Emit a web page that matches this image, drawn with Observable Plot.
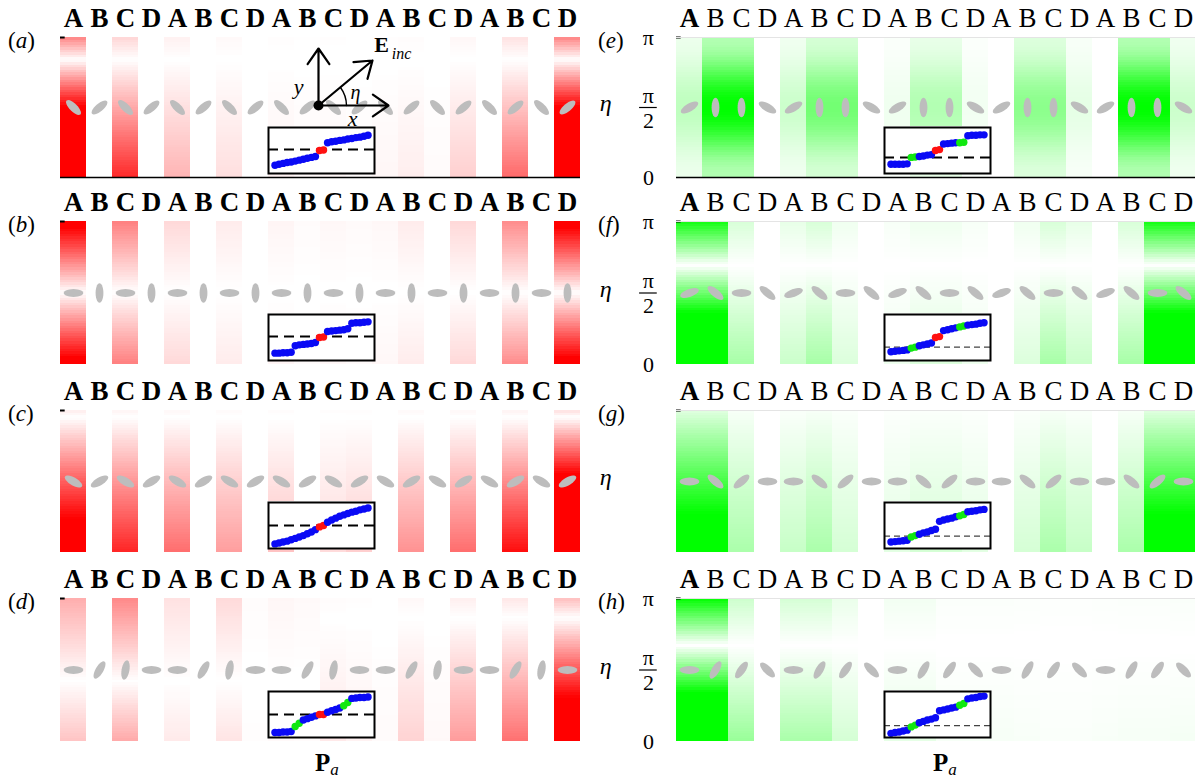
<!DOCTYPE html>
<html><head><meta charset="utf-8">
<script src="https://cdn.jsdelivr.net/npm/d3@7"></script>
<script src="https://cdn.jsdelivr.net/npm/@observablehq/plot@0.6"></script>
<style>
body{margin:0;background:#fff;width:1195px;height:782px;overflow:hidden;position:relative;font-family:'Liberation Serif','DejaVu Serif',serif;}
.abs{position:absolute;}
.plab{position:absolute;font-family:'Liberation Serif','DejaVu Serif',serif;font-size:23px;line-height:1;}
.plab i{font-style:italic;}
.pa{position:absolute;font-family:'Liberation Serif','DejaVu Serif',serif;font-size:25px;line-height:1;}
</style></head><body>
<script>
const colLabels = ["A","B","C","D","A","B","C","D","A","B","C","D","A","B","C","D","A","B","C","D"];

// ---- panel (a)
const ampA  = [3.0,0,1.0,0,0.35,0,0.15,0,0.06,0.03,0.04,0.02,0.04,0.08,0.02,0.22,0,0.7,0,3.0];
const nullA = [0.84,0.84,0.84,0.84,0.84,0.84,0.84,0.84,0.84,0.84,0.84,0.84,0.84,0.84,0.84,0.84,0.84,0.84,0.84,0.84];
const tiltA = [-45,40,-45,40,-45,40,-45,40,-45,40,-45,40,-45,40,-45,40,-45,40,-45,40];
// ---- panel (b)
const ampB  = [2.2,0,1.0,0,0.3,0,0.15,0,0.08,0.03,0.06,0.04,0.06,0.15,0,0.3,0,0.9,0,2.2];
const nullB = [0.5,0.5,0.5,0.5,0.5,0.5,0.5,0.5,0.5,0.5,0.5,0.5,0.5,0.5,0.5,0.5,0.5,0.5,0.5,0.5];
const tiltB = [0,90,0,90,0,90,0,90,0,90,0,90,0,90,0,90,0,90,0,90];
// ---- panel (c)
const ampC  = [1.4,0,0.9,0,0.6,0,0.4,0,0.25,0,0.15,0.2,0,0.45,0,0.6,0,1.0,0,2.5];
const nullC = [0.95,0.95,0.95,0.95,0.95,0.95,0.95,0.95,0.95,0.95,0.95,0.95,0.95,0.95,0.95,0.95,0.95,0.95,0.95,0.95];
const tiltC = [-30,30,-30,30,-30,30,-30,30,-30,30,-30,30,-30,30,-30,30,-30,30,-30,30];
// ---- panel (d)
const ampD  = [0.55,0,0.8,0,0.2,0,0.25,0.02,0.06,0.04,0.1,0.06,0.02,0.2,0.03,0.45,0,0.65,0,1.8];
const nullD = [0.42,0.42,0.42,0.42,0.42,0.42,0.42,0.42,0.42,0.42,0.86,0.86,0.86,0.86,0.86,0.86,0.86,0.86,0.86,0.86];
const tiltD = [0,60,80,0,0,60,80,0,0,60,80,0,0,60,80,0,0,60,80,0];
// ---- panel (e)
const ampE  = [0.25,1.0,1.0,0,0.2,0.55,0.55,0,0.06,0.3,0.3,0.05,0,0.45,0.45,0.1,0,1.0,1.0,0.2];
const nullE = [0,0,0,0,0,0,0,0,0,0,0,0,0,0,0,0,0,0,0,0];
const tiltE = [30,90,90,-30,30,90,90,-30,30,90,90,-30,30,90,90,-30,30,90,90,-30];
// ---- panel (f)
const ampF  = [3,3,0.5,0,0.3,0.5,0.2,0,0.1,0.2,0.2,0.1,0,0.2,0.5,0.3,0,0.5,3,3];
const nullF = [0.69,0.69,0.69,0.69,0.69,0.69,0.69,0.69,0.69,0.69,0.69,0.69,0.69,0.69,0.69,0.69,0.69,0.69,0.69,0.69];
const tiltF = [20,-40,0,-40,20,-40,0,-40,20,-40,0,-40,20,-40,0,-40,20,-40,0,-40];
// ---- panel (g)
const ampG  = [1.2,1.2,0.3,0,0.2,0.3,0.15,0,0.1,0.15,0.15,0.1,0,0.15,0.3,0.2,0,0.3,1.2,1.2];
const nullG = [1.1,1.1,1.1,1.1,1.1,1.1,1.1,1.1,1.1,1.1,1.1,1.1,1.1,1.1,1.1,1.1,1.1,1.1,1.1,1.1];
const tiltG = [0,-40,40,0,0,-40,40,0,0,-40,40,0,0,-40,40,0,0,-40,40,0];
// ---- panel (h)
const ampH  = [3,3,0.6,0,0.5,0.5,0.25,0,0.15,0.15,0.05,0.05,0.05,0.04,0.03,0.03,0.04,0.05,0.05,0.06];
const nullH = [0.67,0.67,0.67,0.67,0.67,0.67,0.67,0.67,0.67,0.67,0.67,0.67,0.67,0.67,0.67,0.67,0.67,0.67,0.67,0.67];
const tiltH = [0,60,55,-45,0,60,55,-45,0,60,55,-45,0,60,55,-45,0,60,55,-45];

// ---- insets: y value (fraction of inset height) and colour code per dot
const insetYA = [0.18,0.20,0.22,0.24,0.25,0.27,0.29,0.31,0.33,0.35,0.37,0.50,0.51,0.67,0.69,0.70,0.72,0.73,0.75,0.76,0.78,0.79,0.81,0.83];
const insetCA = "bbbbbbbbbbbrrbbbbbbbbbbb";
const insetYB = [0.16,0.16,0.17,0.17,0.18,0.32,0.34,0.35,0.36,0.37,0.39,0.50,0.51,0.63,0.64,0.65,0.66,0.67,0.69,0.81,0.82,0.82,0.83,0.84];
const insetCB = "bbbbbbbbbbbrrbbbbbbbbbbb";
const insetYC = [0.10,0.12,0.14,0.16,0.19,0.22,0.25,0.28,0.32,0.36,0.41,0.47,0.50,0.57,0.62,0.66,0.70,0.73,0.76,0.79,0.81,0.84,0.86,0.88];
const insetCC = "bbbbbbbbbbbrrbbbbbbbbbbb";
const insetYD = [0.11,0.11,0.12,0.12,0.13,0.24,0.31,0.38,0.41,0.44,0.47,0.50,0.50,0.55,0.58,0.61,0.64,0.69,0.76,0.85,0.86,0.87,0.87,0.88];
const insetCD = "bbbbbggbbbbrrbbbbggbbbbb";
const insetYE = [0.20,0.20,0.20,0.20,0.21,0.35,0.36,0.37,0.38,0.40,0.41,0.50,0.52,0.64,0.65,0.66,0.67,0.67,0.68,0.82,0.83,0.83,0.84,0.84];
const insetCE = "bbbbbggbbbbrrbbbbggbbbbb";
const insetYF = [0.19,0.20,0.21,0.22,0.23,0.27,0.29,0.32,0.34,0.36,0.38,0.50,0.52,0.65,0.67,0.69,0.71,0.73,0.75,0.77,0.78,0.79,0.81,0.82];
const insetCF = "bbbbbggbbbbrrbbbbggbbbbb";
const insetYG = [0.14,0.15,0.16,0.17,0.18,0.25,0.28,0.31,0.34,0.36,0.39,0.42,0.59,0.62,0.64,0.66,0.69,0.71,0.74,0.80,0.81,0.82,0.84,0.85];
const insetCG = "bbbbbggbbbbbbbbbbggbbbbb";
const insetYH = [0.09,0.11,0.12,0.14,0.16,0.23,0.27,0.32,0.35,0.38,0.40,0.43,0.58,0.60,0.62,0.64,0.66,0.70,0.74,0.84,0.86,0.87,0.89,0.90];
const insetCH = "bbbbbggbbbbbbbbbbggbbbbb";
const dashLevels = [0.52,0.52,0.50,0.50,0.35,0.29,0.27,0.26];

// ---------------- layout (pixels) ----------------
const COLW = 26, NC = 20;
const sideX = [60, 676];
const rowTop = [37, 221, 410, 598];
const rowBot = [177, 364, 552, 741];
const dotColor = {b: "#0a0af5", r: "#ff1010", g: "#10e810"};

const panels = [
  {id:"a", side:0, row:0, hue:"red",   shape:"v",    amp:ampA, nul:nullA, tilt:tiltA, iy:insetYA, ic:insetCA},
  {id:"b", side:0, row:1, hue:"red",   shape:"v",    amp:ampB, nul:nullB, tilt:tiltB, iy:insetYB, ic:insetCB},
  {id:"c", side:0, row:2, hue:"red",   shape:"v",    amp:ampC, nul:nullC, tilt:tiltC, iy:insetYC, ic:insetCC},
  {id:"d", side:0, row:3, hue:"red",   shape:"v",    amp:ampD, nul:nullD, tilt:tiltD, iy:insetYD, ic:insetCD},
  {id:"e", side:1, row:0, hue:"green", shape:"peak", amp:ampE, nul:nullE, tilt:tiltE, iy:insetYE, ic:insetCE},
  {id:"f", side:1, row:1, hue:"green", shape:"v",    amp:ampF, nul:nullF, tilt:tiltF, iy:insetYF, ic:insetCF},
  {id:"g", side:1, row:2, hue:"green", shape:"v",    amp:ampG, nul:nullG, tilt:tiltG, iy:insetYG, ic:insetCG},
  {id:"h", side:1, row:3, hue:"green", shape:"v",    amp:ampH, nul:nullH, tilt:tiltH, iy:insetYH, ic:insetCH}
];

function intensity(p, c, etaFrac) {
  const a = p.amp[c], n = p.nul[c];
  if (p.shape === "peak") {
    const s = Math.sin(Math.PI * (etaFrac - n));
    return a * (0.3 + 0.7 * s * s);
  }
  return a * Math.abs(etaFrac - n);
}
function stripColor(hue, t) {
  const v = Math.round(255 * (1 - t));
  return hue === "red" ? `rgb(255,${v},${v})` : `rgb(${v},255,${v})`;
}

const PI = Math.PI;
const SERIF = "'Liberation Serif', 'DejaVu Serif', serif";

panels.forEach((p, pi) => {
  const x0 = sideX[p.side], top = rowTop[p.row], bot = rowBot[p.row], H = bot - top;
  const ML = p.side === 0 ? 60 : 80, MT = 30, MB = 10, MR = p.side === 0 ? 15 : 0;
  const W = ML + NC * COLW + MR;
  const pxPerEta = H / PI;

  const NR = 56, cells = [];
  for (let c = 0; c < NC; c++) {
    if (p.amp[c] <= 0) continue;
    for (let k = 0; k < NR; k++) {
      const ef = (k + 0.5) / NR;
      const t = Math.min(1, intensity(p, c, ef));
      if (t < 0.004) continue;
      cells.push({x1: c, x2: c + 1, y1: k / NR * PI, y2: (k + 1) / NR * PI, fill: stripColor(p.hue, t)});
    }
  }
  const ell = [];
  const big = 9.8, small = 3.9;
  p.tilt.forEach((deg, c) => {
    const th = deg * PI / 180;
    for (let j = 0; j < 28; j++) {
      const ph = j / 28 * 2 * PI;
      const ex = big * Math.cos(ph), ey = small * Math.sin(ph);
      const X = ex * Math.cos(th) - ey * Math.sin(th);
      const Y = ex * Math.sin(th) + ey * Math.cos(th);
      ell.push({id: c, x: c + 0.5 + X / COLW, y: PI / 2 + Y / pxPerEta});
    }
  });
  const labels = colLabels.map((t, c) => ({x: c + 0.5, t, bold: p.side === 0 || c === 0}));

  const marks = [
    Plot.rect(cells, {x1: "x1", x2: "x2", y1: "y1", y2: "y2", fill: "fill", shapeRendering: "crispEdges"}),
    Plot.line(ell, {x: "x", y: "y", z: "id", fill: "#bdbdbd", stroke: "none", curve: "linear-closed"}),
    Plot.text(labels.filter(d => d.bold), {x: "x", y: PI, dy: -19, text: "t", fontSize: 27, fontWeight: "bold", fontFamily: SERIF, fill: "black"}),
    Plot.text(labels.filter(d => !d.bold), {x: "x", y: PI, dy: -19, text: "t", fontSize: 27, fontFamily: SERIF, fill: "black"}),
    Plot.ruleY([PI], {x1: 0, x2: 0.18, stroke: "black", strokeWidth: 2})
  ];
  if (p.side === 1) marks.push(Plot.ruleY([PI], {x1: 0, x2: NC, stroke: "#e4e4e4", strokeWidth: 1}));
  if (p.row === 0) marks.push(Plot.ruleY([0], {x1: 0, x2: NC, stroke: "black", strokeWidth: 1.5}));
  if (p.side === 1) {
    marks.push(Plot.text(["η"], {x: -2.72, y: PI / 2, dy: -4, text: d => d, fontSize: 24, fontStyle: "italic", fontFamily: SERIF, fill: "black"}));
    if (p.id !== "g") {
      marks.push(
        Plot.text(["π"], {x: -1.08, y: PI, dy: 0, text: d => d, fontSize: 22, fontFamily: SERIF, fill: "black"}),
        Plot.text(["0"], {x: -1.08, y: 0, dy: 0, text: d => d, fontSize: 22, fontFamily: SERIF, fill: "black"}),
        Plot.text(["π"], {x: -1.08, y: PI / 2, dy: -12, text: d => d, fontSize: 22, fontFamily: SERIF, fill: "black"}),
        Plot.text(["2"], {x: -1.08, y: PI / 2, dy: 13, text: d => d, fontSize: 22, fontFamily: SERIF, fill: "black"}),
        Plot.ruleY([PI / 2], {x1: -1.42, x2: -0.74, stroke: "black", strokeWidth: 1.2})
      );
    }
  }
  if (p.id === "a") {
    const X = px => (px - x0) / COLW, Y = py => (bot - py) / pxPerEta;
    marks.push(
      Plot.arrow([0], {x1: X(318), y1: Y(105), x2: X(318), y2: Y(48), stroke: "black", strokeWidth: 2.2, headLength: 13, headAngle: 70}),
      Plot.arrow([0], {x1: X(318), y1: Y(105), x2: X(388), y2: Y(105), stroke: "black", strokeWidth: 2.2, headLength: 13, headAngle: 70}),
      Plot.arrow([0], {x1: X(318), y1: Y(105), x2: X(372), y2: Y(60), stroke: "black", strokeWidth: 2.2, headLength: 13, headAngle: 70}),
      Plot.arrow([0], {x1: X(346), y1: Y(105), x2: X(340), y2: Y(87), stroke: "black", strokeWidth: 1.4, headLength: 0, bend: -18}),
      Plot.dot([0], {x: X(318), y: Y(105), r: 5, fill: "black"}),
      Plot.text(["y"], {x: X(298), y: Y(86), text: d => d, fontSize: 22, fontStyle: "italic", fontFamily: SERIF, fill: "black"}),
      Plot.text(["x"], {x: X(352), y: Y(118), text: d => d, fontSize: 22, fontStyle: "italic", fontFamily: SERIF, fill: "black"}),
      Plot.text(["η"], {x: X(355), y: Y(92), text: d => d, fontSize: 20, fontStyle: "italic", fontFamily: SERIF, fill: "black"}),
      Plot.text(["E"], {x: X(381), y: Y(44), text: d => d, fontSize: 22, fontWeight: "bold", fontFamily: SERIF, fill: "black"}),
      Plot.text(["inc"], {x: X(401), y: Y(53), text: d => d, fontSize: 16, fontStyle: "italic", fontFamily: SERIF, fill: "black"})
    );
  }

  const chart = Plot.plot({
    width: W, height: H + MT + MB,
    marginLeft: ML, marginRight: MR, marginTop: MT, marginBottom: MB,
    x: {domain: [0, NC], axis: null},
    y: {domain: [0, PI], axis: null},
    color: {type: "identity"},
    style: {background: "transparent", overflow: "visible", fontFamily: SERIF},
    marks
  });
  const div = document.createElement("div");
  div.className = "abs";
  div.style.left = (x0 - ML) + "px";
  div.style.top = (top - MT) + "px";
  div.style.width = W + "px";
  div.appendChild(chart);
  document.body.appendChild(div);

  const iy0 = bot - 50, ix0 = x0 + 8 * COLW - 1;
  const pts = p.iy.map((v, i) => ({i, v, c: dotColor[p.ic[i]]}));
  const heavy = p.side === 0 || p.id === "e";
  const inset = Plot.plot({
    width: 108, height: 48, margin: 1,
    x: {domain: [-1.6, 24.6], axis: null},
    y: {domain: [0, 1], axis: null},
    style: {background: "white", overflow: "visible"},
    marks: [
      Plot.ruleY([dashLevels[pi]], {stroke: heavy ? "black" : "#444", strokeWidth: heavy ? 2 : 1.2, strokeDasharray: heavy ? "10,6" : "6,4"}),
      Plot.dot(pts, {x: "i", y: "v", r: 3.7, fill: "c", stroke: "none"}),
      Plot.frame({stroke: "black", strokeWidth: 2})
    ]
  });
  const idiv = document.createElement("div");
  idiv.className = "abs";
  idiv.style.left = ix0 + "px";
  idiv.style.top = (iy0 - 1) + "px";
  idiv.style.width = "108px";
  idiv.appendChild(inset);
  document.body.appendChild(idiv);

  const lab = document.createElement("div");
  lab.className = "plab";
  lab.innerHTML = "(<i>" + p.id + "</i>)";
  lab.style.left = (p.side === 0 ? 8 : 598) + "px";
  lab.style.top = (top - 8) + "px";
  document.body.appendChild(lab);
});

[315, 933].forEach(x => {
  const d = document.createElement("div");
  d.className = "pa";
  d.style.left = x + "px";
  d.style.top = "750px";
  d.innerHTML = '<b>P</b><i style="font-size:17px;position:relative;top:4px;">a</i>';
  document.body.appendChild(d);
});
</script>
</body></html>
